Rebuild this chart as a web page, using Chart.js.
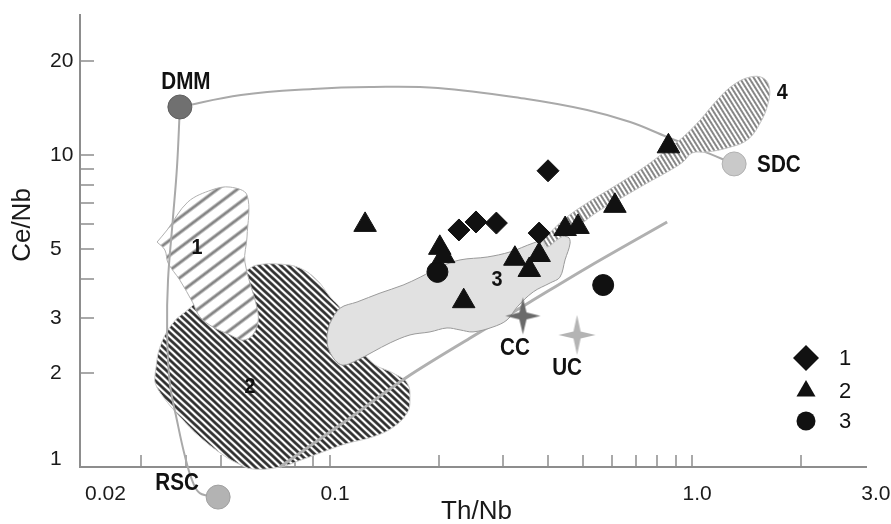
<!DOCTYPE html>
<html>
<head>
<meta charset="utf-8">
<script src="https://cdn.jsdelivr.net/npm/chart.js@4.4.0/dist/chart.umd.min.js"></script>
<style>
  html, body { margin: 0; padding: 0; background: #fff; }
</style>
</head>
<body>
<canvas id="chart" width="891" height="524"></canvas>
<script>
// samples, [Th/Nb, Ce/Nb]
const group1 = [[0.40, 8.9], [0.227, 5.75], [0.253, 6.1], [0.288, 6.05], [0.378, 5.62]];
const group2 = [[0.125, 5.97], [0.86, 10.66], [0.612, 6.87], [0.446, 5.79], [0.484, 5.88],
  [0.201, 5.04], [0.206, 4.74], [0.324, 4.65], [0.378, 4.78], [0.355, 4.28], [0.234, 3.4]];
const group3 = [[0.198, 4.22], [0.568, 3.83]];

// reservoirs
const endNames = ["DMM", "SDC", "RSC", "CC", "UC"];
const endTh = [0.0385, 1.306, 0.0491, 0.341, 0.481];
const endCe = [14.25, 9.36, 0.801, 3.05, 2.65];

// mixing curves
const curveDmmSdc = [[0.0385, 14.25], [0.0568, 15.57], [0.0897, 16.28], [0.129, 16.52], [0.1986, 16.4],
  [0.35, 15.11], [0.5129, 13.93], [0.6745, 12.75], [0.8531, 11.42], [1.052, 10.38], [1.306, 9.36]];
const curveDmmRsc = [[0.0385, 14.25], [0.0378, 9.16], [0.0368, 6.19], [0.0357, 3.97], [0.0355, 2.75],
  [0.0361, 1.86], [0.0378, 1.41], [0.0397, 1.09], [0.0416, 0.908], [0.0437, 0.825], [0.0491, 0.801]];
const trendLine = [[0.0727, 1.0], [0.1066, 1.363], [0.1633, 1.942], [0.2438, 2.59], [0.3568, 3.38],
  [0.5224, 4.41], [0.8531, 6.1]];

// fields
const field1 = [[0.0333, 5.26], [0.0355, 5.75], [0.0405, 7.07], [0.0472, 7.73], [0.053, 7.89], [0.059, 7.44],
  [0.059, 5.46], [0.0582, 4.54], [0.0628, 3.26], [0.0633, 2.92], [0.0612, 2.65], [0.0575, 2.55], [0.053, 2.65],
  [0.0475, 2.81], [0.0437, 3.03], [0.0418, 3.36], [0.0385, 3.97], [0.0357, 4.51], [0.035, 4.96], [0.0333, 5.26]];
const field2 = [[0.0329, 2.0], [0.0339, 2.42], [0.0368, 2.89], [0.041, 3.23], [0.0481, 3.83], [0.059, 4.28],
  [0.0628, 4.44], [0.0727, 4.47], [0.0826, 4.34], [0.0921, 3.97], [0.1, 3.51], [0.1067, 3.23], [0.1173, 2.55],
  [0.1315, 2.15], [0.1493, 2.0], [0.1633, 1.86], [0.1663, 1.64], [0.1633, 1.49], [0.1493, 1.34], [0.1315, 1.25],
  [0.1114, 1.19], [0.0981, 1.13], [0.0826, 1.05], [0.0727, 1.0], [0.0612, 0.985], [0.0553, 1.03], [0.0497, 1.11],
  [0.0437, 1.25], [0.0385, 1.45], [0.0346, 1.68], [0.0329, 1.86], [0.0329, 2.0]];
const field3 = [[0.0981, 2.65], [0.1, 2.89], [0.1067, 3.23], [0.1188, 3.38], [0.1375, 3.61], [0.1592, 3.83],
  [0.1775, 4.06], [0.2015, 4.38], [0.2286, 4.61], [0.2716, 4.71], [0.3141, 4.89], [0.364, 5.22], [0.413, 5.46],
  [0.4539, 5.46], [0.4603, 5.22], [0.4457, 4.61], [0.4315, 4.06], [0.4055, 3.89], [0.364, 3.64], [0.3289, 3.26],
  [0.3083, 2.96], [0.2818, 2.81], [0.2483, 2.71], [0.2286, 2.75], [0.2104, 2.79], [0.1888, 2.71], [0.1663, 2.65],
  [0.1466, 2.5], [0.1315, 2.34], [0.1188, 2.2], [0.1086, 2.12], [0.1032, 2.2], [0.0987, 2.42], [0.0981, 2.65]];
const field4 = [[0.3873, 5.34], [0.4406, 6.19], [0.5129, 7.02], [0.6053, 7.89], [0.7178, 8.95], [0.8318, 10.15],
  [0.9441, 11.42], [1.052, 12.95], [1.172, 15.0], [1.298, 16.76], [1.446, 17.78], [1.571, 17.65], [1.633, 16.52],
  [1.622, 14.68], [1.542, 12.67], [1.419, 11.17], [1.25, 10.53], [1.099, 10.22], [1.0, 10.15], [0.9441, 9.5],
  [0.8531, 8.82], [0.7516, 8.13], [0.6442, 7.33], [0.5572, 6.66], [0.4808, 5.88], [0.4236, 5.34], [0.3972, 5.07],
  [0.3873, 5.34]];
const fieldNames = ["1", "2", "3", "4"];
const fieldTagTh = [0.0429, 0.0601, 0.289, 1.774];
const fieldTagCe = [5.03, 1.8, 3.97, 15.8];

// axes (the y scale runs below the drawn axis so RSC can sit under it)
const xMin = 0.0204, xMax = 3.04;
const yAxisMin = 1, yScaleMin = 0.75, yMax = 28.3;
const xTicks = [0.03, 0.04, 0.05, 0.06, 0.07, 0.08, 0.09, 0.1, 0.2, 0.3, 0.4, 0.5, 0.6, 0.7, 0.8, 0.9, 1, 2];
const xTickLabels = ["0.02", "0.1", "1.0", "3.0"];
const xTickLabelValues = [0.02, 0.1, 1, 3];
const yTicks = [2, 3, 4, 5, 6, 7, 8, 9, 10, 20];
const yTickLabels = ["1", "2", "3", "5", "10", "20"];
const yTickLabelValues = [1, 2, 3, 5, 10, 20];
const legendNames = ["1", "2", "3"];

const pts = (arr) => arr.map((p) => ({ x: p[0], y: p[1] }));

const canvas = document.getElementById("chart");
const ctx = canvas.getContext("2d");

function hatch(period, lineW, color, angle) {
  const c = document.createElement("canvas");
  c.width = 8;
  c.height = period;
  const g = c.getContext("2d");
  g.fillStyle = "#fff";
  g.fillRect(0, 0, 8, period);
  g.fillStyle = color;
  g.fillRect(0, (period - lineW) / 2, 8, lineW);
  const p = ctx.createPattern(c, "repeat");
  p.setTransform(new DOMMatrix().rotate(angle));
  return p;
}

function star(w, h, inner, color) {
  const c = document.createElement("canvas");
  c.width = Math.ceil(w * 2) + 2;
  c.height = Math.ceil(h * 2) + 2;
  const g = c.getContext("2d");
  const cx = c.width / 2, cy = c.height / 2;
  g.fillStyle = color;
  g.beginPath();
  g.moveTo(cx, cy - h);
  g.lineTo(cx + inner, cy - inner);
  g.lineTo(cx + w, cy);
  g.lineTo(cx + inner, cy + inner);
  g.lineTo(cx, cy + h);
  g.lineTo(cx - inner, cy + inner);
  g.lineTo(cx - w, cy);
  g.lineTo(cx - inner, cy - inner);
  g.closePath();
  g.fill();
  return c;
}

const FONT = '"Liberation Sans", Arial, sans-serif';

// where the reservoir names sit, relative to the marker
const endTagStyle = [
  { dx: 6, dy: -25, align: "center" },
  { dx: 23, dy: 1, align: "left" },
  { dx: -41, dy: -14, align: "center" },
  { dx: -8, dy: 32, align: "center" },
  { dx: -10, dy: 33, align: "center" },
];

function squeezedText(ctx, text, px, py, align, sx) {
  ctx.save();
  ctx.translate(px, py);
  ctx.scale(sx, 1);
  ctx.textAlign = align;
  ctx.fillText(text, 0, 0);
  ctx.restore();
}

const axesPlugin = {
  id: "axes",
  beforeDatasetsDraw(chart) {
    const { ctx, chartArea: a, scales } = chart;
    const x = scales.x, y = scales.y;
    const base = Math.round(y.getPixelForValue(yAxisMin));
    ctx.save();
    ctx.strokeStyle = "#8d8d8d";
    ctx.lineWidth = 2;
    ctx.beginPath();
    ctx.moveTo(a.left, a.top);
    ctx.lineTo(a.left, base);
    ctx.lineTo(a.right, base);
    ctx.stroke();

    ctx.lineWidth = 1.5;
    ctx.beginPath();
    xTicks.forEach((v) => {
      const px = Math.round(x.getPixelForValue(v));
      ctx.moveTo(px, base);
      ctx.lineTo(px, base - 12);
    });
    yTicks.forEach((v) => {
      const py = Math.round(y.getPixelForValue(v));
      ctx.moveTo(a.left, py);
      ctx.lineTo(a.left + 14, py);
    });
    ctx.stroke();

    ctx.fillStyle = "#1a1a1a";
    ctx.font = "21px " + FONT;
    ctx.textBaseline = "middle";
    xTickLabels.forEach((t, i) => {
      const v = xTickLabelValues[i];
      if (i === 0) {
        ctx.textAlign = "left";
        ctx.fillText(t, a.left + 5, base + 27);
      } else {
        ctx.textAlign = "center";
        ctx.fillText(t, x.getPixelForValue(v) + 5 + (i === 3 ? 6 : 0), base + 27);
      }
    });
    ctx.textAlign = "left";
    yTickLabels.forEach((t, i) => {
      const v = yTickLabelValues[i];
      const py = y.getPixelForValue(v) - (v === yAxisMin ? 8 : 0);
      ctx.fillText(t, a.left - 30, py);
    });

    ctx.font = "26px " + FONT;
    ctx.textAlign = "center";
    ctx.fillText("Th/Nb", (a.left + a.right) / 2 + 3, base + 45);
    ctx.save();
    ctx.translate(23, 225);
    ctx.rotate(-Math.PI / 2);
    ctx.fillText("Ce/Nb", 0, 0);
    ctx.restore();
    ctx.restore();
  },
};

const tagsPlugin = {
  id: "tags",
  afterDatasetsDraw(chart) {
    const { ctx, chartArea: a, scales } = chart;
    const x = scales.x, y = scales.y;
    const base = y.getPixelForValue(yAxisMin);
    ctx.save();
    ctx.fillStyle = "#111";
    ctx.textBaseline = "middle";
    ctx.font = "bold 24px " + FONT;
    endNames.forEach((n, i) => {
      const s = endTagStyle[i];
      squeezedText(ctx, n, x.getPixelForValue(endTh[i]) + s.dx, y.getPixelForValue(endCe[i]) + s.dy, s.align, 0.86);
    });
    ctx.font = "bold 22px " + FONT;
    fieldNames.forEach((n, i) => {
      squeezedText(ctx, n, x.getPixelForValue(fieldTagTh[i]), y.getPixelForValue(fieldTagCe[i]), "center", 0.9);
    });

    // legend
    const sizes = [13, 11, 9.5];
    ctx.font = "22px " + FONT;
    ctx.textAlign = "left";
    legendNames.forEach((n, i) => {
      const lx = a.right - 61;
      const ly = base - 109 + [0, 33, 63][i];
      const ds = chart.data.datasets[i];
      ctx.fillStyle = "#111";
      Chart.helpers.drawPoint(ctx, { pointStyle: ds.pointStyle, radius: sizes[i], rotation: 0, borderWidth: 0 }, lx, ly);
      ctx.fillText(n, lx + 33, ly + 1);
    });
    ctx.restore();
  },
};

const patField1 = hatch(12, 3, "#858585", -37);
const patField2 = hatch(5, 2.6, "#242424", 43);
const patField4 = hatch(4, 1.6, "#6a6a6a", 58);

const starCC = star(17.5, 18.5, 3.6, "#6a6a6a");
const starUC = star(18.5, 20, 3.6, "#b4b4b4");

new Chart(ctx, {
  type: "line",
  data: {
    datasets: [
      { label: "1", data: pts(group1), showLine: false, pointStyle: "rectRot", pointRadius: 11,
        pointBackgroundColor: "#111", pointBorderColor: "#111", pointBorderWidth: 1, order: 1 },
      { label: "2", data: pts(group2), showLine: false, pointStyle: "triangle", pointRadius: 13,
        pointBackgroundColor: "#111", pointBorderColor: "#111", pointBorderWidth: 1, order: 1 },
      { label: "3", data: pts(group3), showLine: false, pointStyle: "circle", pointRadius: 10.5,
        pointBackgroundColor: "#111", pointBorderColor: "#111", pointBorderWidth: 1, order: 1 },
      { label: "reservoirs", data: endTh.map((v, i) => ({ x: v, y: endCe[i] })), showLine: false,
        pointStyle: ["circle", "circle", "circle", starCC, starUC], pointRadius: 12,
        pointBackgroundColor: ["#707070", "#c9c9c9", "#b3b3b3", "#6a6a6a", "#b4b4b4"],
        pointBorderColor: ["#5e5e5e", "#b0b0b0", "#a0a0a0", "#6a6a6a", "#b4b4b4"],
        pointBorderWidth: 1, clip: false, order: 3 },
      { label: "DMM-SDC", data: pts(curveDmmSdc), borderColor: "#a9a9a9", borderWidth: 2, pointRadius: 0,
        tension: 0.4, fill: false, order: 6 },
      { label: "DMM-RSC", data: pts(curveDmmRsc), borderColor: "#a9a9a9", borderWidth: 2, pointRadius: 0,
        tension: 0.4, fill: false, order: 6 },
      { label: "trend", data: pts(trendLine), borderColor: "#b0b0b0", borderWidth: 3, pointRadius: 0,
        tension: 0.3, fill: false, order: 8 },
      { label: "field 1", data: pts(field1), fill: "shape", backgroundColor: patField1, borderColor: "#b0b0b0",
        borderWidth: 1, pointRadius: 0, tension: 0.35, order: 9 },
      { label: "field 2", data: pts(field2), fill: "shape", backgroundColor: patField2, borderColor: "#cccccc",
        borderWidth: 1, pointRadius: 0, tension: 0.4, order: 10 },
      { label: "field 3", data: pts(field3), fill: "shape", backgroundColor: "#e1e1e1", borderColor: "#9a9a9a",
        borderWidth: 1, pointRadius: 0, tension: 0.35, order: 7 },
      { label: "field 4", data: pts(field4), fill: "shape", backgroundColor: patField4, borderColor: "#c4c4c4",
        borderWidth: 1, pointRadius: 0, tension: 0.4, order: 5 },
    ],
  },
  options: {
    responsive: false,
    animation: false,
    events: [],
    layout: { padding: { left: 80, right: 24, top: 14, bottom: 18 } },
    scales: {
      x: { type: "logarithmic", min: xMin, max: xMax, display: false },
      y: { type: "logarithmic", min: yScaleMin, max: yMax, display: false },
    },
    plugins: {
      legend: { display: false },
      tooltip: { enabled: false },
    },
  },
  plugins: [axesPlugin, tagsPlugin],
});
</script>
</body>
</html>
